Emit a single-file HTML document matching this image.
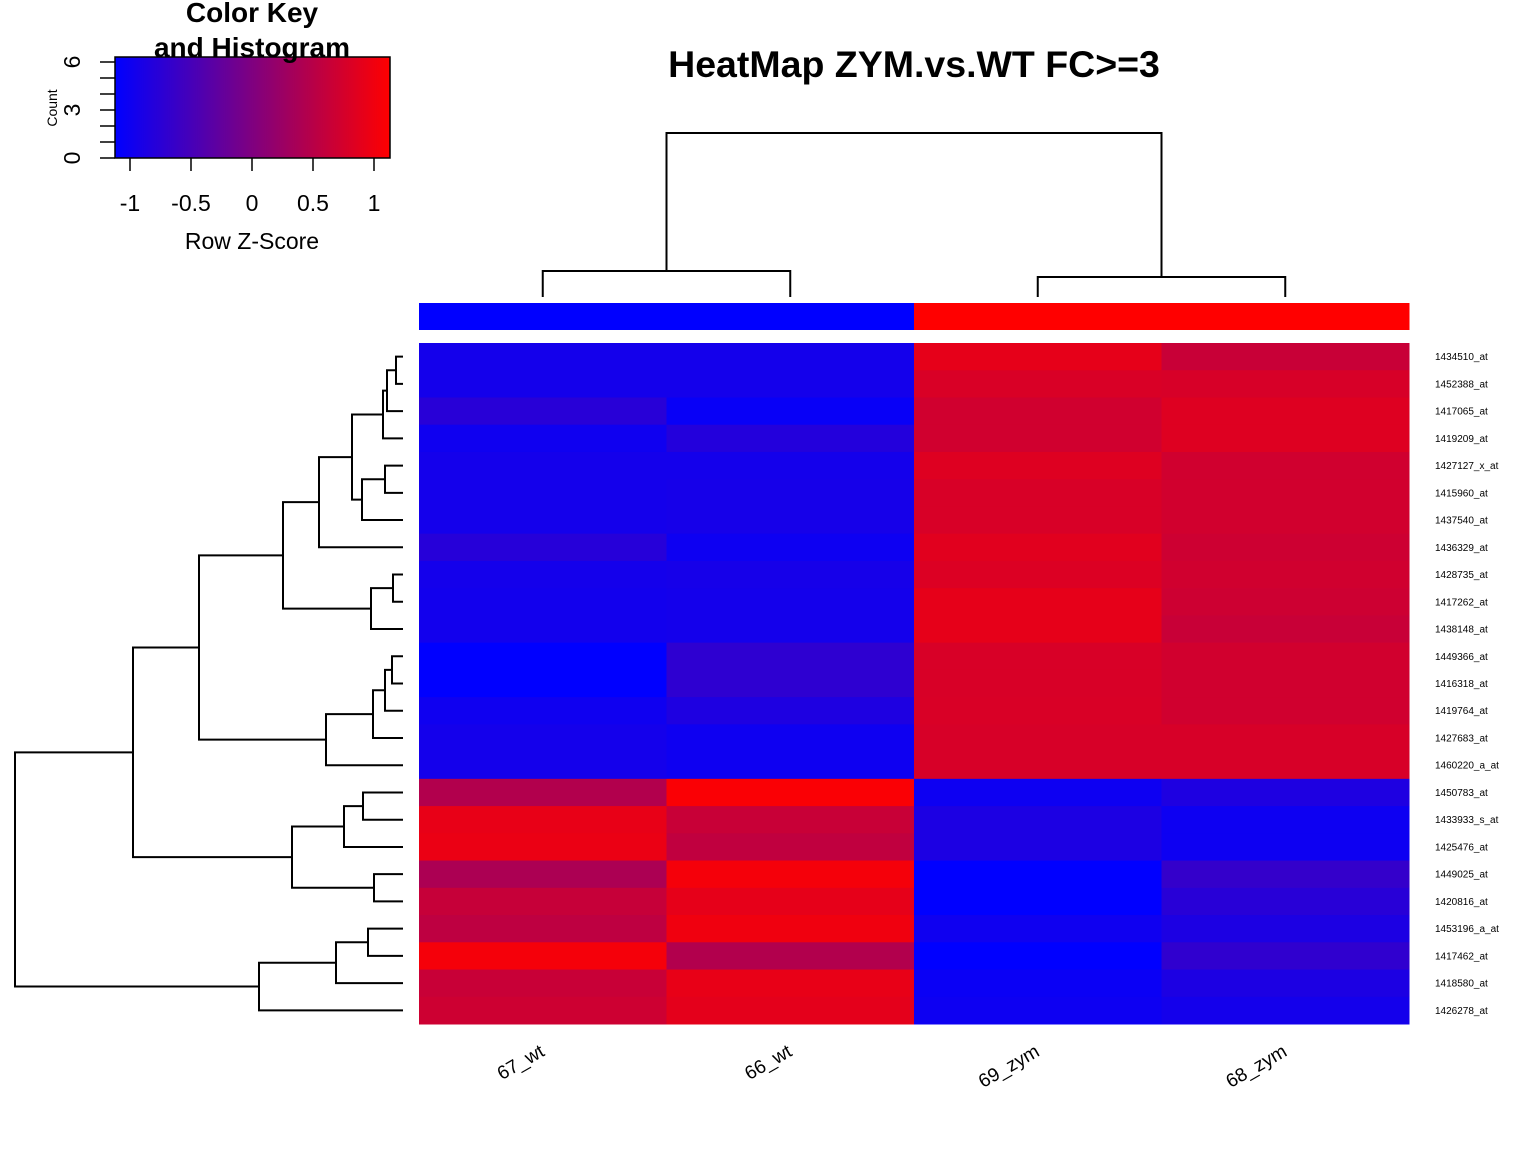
<!DOCTYPE html>
<html><head><meta charset="utf-8">
<style>
html,body{margin:0;padding:0;background:#fff;}
svg{display:block;font-family:"Liberation Sans",Arial,sans-serif;}
</style></head>
<body>
<svg id="chart" width="1536" height="1152" viewBox="0 0 1536 1152" xmlns="http://www.w3.org/2000/svg">
  <rect x="0" y="0" width="1536" height="1152" fill="#fff"/>
  <text x="914" y="77" font-size="37.5" font-weight="bold" text-anchor="middle">HeatMap ZYM.vs.WT FC&gt;=3</text>
  <g id="key">
    <defs>
      <linearGradient id="kg" x1="0" x2="1" y1="0" y2="0">
        <stop offset="0" stop-color="#0000ff"/>
        <stop offset="1" stop-color="#ff0000"/>
      </linearGradient>
    </defs>
    <text x="252" y="22" font-size="28" font-weight="bold" text-anchor="middle">Color Key</text>
    <rect x="115" y="57" width="275" height="101" fill="url(#kg)" stroke="#000" stroke-width="1.5"/>
    <text x="252" y="57" font-size="28" font-weight="bold" text-anchor="middle">and Histogram</text>
    <text x="252" y="249" font-size="23" text-anchor="middle">Row Z-Score</text>
    <text transform="translate(57,108) rotate(-90)" font-size="14" text-anchor="middle">Count</text>
  </g>
  <g id="dendro" stroke="#000" stroke-width="2" fill="none"></g>
  <g id="cdendro" stroke="#000" stroke-width="2" fill="none"></g>
  <g id="cells"></g>
  <g id="labels"></g>
</svg>
<script>
const cols = ["67_wt","66_wt","69_zym","68_zym"];
const groups = ["wt","wt","zym","zym"];
const rows = ["1434510_at","1452388_at","1417065_at","1419209_at","1427127_x_at","1415960_at","1437540_at","1436329_at","1428735_at","1417262_at","1438148_at","1449366_at","1416318_at","1419764_at","1427683_at","1460220_a_at","1450783_at","1433933_s_at","1425476_at","1449025_at","1420816_at","1453196_a_at","1417462_at","1418580_at","1426278_at"];
const z67 = [-0.94,-0.94,-0.77,-0.99,-0.94,-0.94,-0.94,-0.79,-0.94,-0.96,-0.96,-1.12,-1.12,-0.99,-0.94,-0.94,0.44,0.92,0.94,0.39,0.62,0.55,1.03,0.64,0.68];
const z66 = [-0.94,-0.94,-1.05,-0.81,-0.94,-0.93,-0.93,-1.01,-0.93,-0.94,-0.94,-0.72,-0.72,-0.86,-1.00,-1.00,1.08,0.64,0.57,1.03,0.90,0.99,0.44,0.92,0.88];
const z69 = [0.90,0.79,0.71,0.71,0.83,0.78,0.78,0.86,0.81,0.90,0.90,0.78,0.78,0.79,0.77,0.77,-1.01,-0.87,-0.87,-1.12,-1.12,-0.99,-1.12,-1.03,-1.01];
const z68 = [0.64,0.77,0.83,0.83,0.71,0.72,0.72,0.68,0.71,0.68,0.64,0.72,0.71,0.71,0.77,0.77,-0.86,-1.01,-1.01,-0.66,-0.77,-0.87,-0.70,-0.87,-0.94];
const keyTicks = [-1,-0.5,0,0.5,1];
const countTicks = [0,1,2,3,4,5,6];
const countLabels = [0,3,6];
const rowMerges = [[0,1,396],[-1,2,387],[-2,3,383],[4,5,385],[-4,6,362],[-3,-5,352],[-6,7,319],[8,9,393],[-8,10,371],[-7,-9,283],[11,12,392],[-11,13,385],[-12,14,373],[-13,15,326],[-10,-14,199],[16,17,363],[-16,18,344],[19,20,374],[-17,-18,292],[-15,-19,133],[21,22,368],[-21,23,336],[-22,24,259],[-20,-23,15]];
const colMerges = [[0,1,271],[2,3,277],[-1,-2,133]];

const NS="http://www.w3.org/2000/svg";
const X0=419, X1=1409, Y0=343, Y1=1024;
const cw=(X1-X0)/cols.length, rh=(Y1-Y0)/rows.length;
const xCol=i=>X0+cw*i, yRow=i=>Y0+rh*i;
const kx=v=>252+v*122, ky=c=>158-c*16;
function color(z){let t=(z+1.12)/2.24;t=Math.max(0,Math.min(1,t));const r=Math.round(255*t);return `rgb(${r},0,${255-r})`;}
function mk(tag,attrs,parent){const e=document.createElementNS(NS,tag);for(const k in attrs)e.setAttribute(k,attrs[k]);parent.appendChild(e);return e;}

const key=document.getElementById('key');
keyTicks.forEach(v=>{
  const t=mk('line',{x1:kx(v),x2:kx(v),y1:158,y2:171,stroke:'#000','stroke-width':1.5},key);
  
  
  const l=mk('text',{x:kx(v),y:211,'font-size':23,'text-anchor':'middle'},key);
  l.textContent=String(v);
  
  
});
countTicks.forEach(c=>{
  const t=mk('line',{x1:100,x2:115,y1:ky(c),y2:ky(c),stroke:'#000','stroke-width':1.5},key);
  
  
});
countLabels.forEach(c=>{
  const l=mk('text',{transform:`translate(80,${ky(c)}) rotate(-90)`,'font-size':23,'text-anchor':'middle'},key);
  l.textContent=String(c);
  
  
});

const cells=document.getElementById('cells');
const series=[z67,z66,z69,z68];
series.forEach((arr,ci)=>{
  arr.forEach((z,ri)=>{
    const r=mk('rect',{x:xCol(ci),y:yRow(ri),width:cw+0.5,height:rh+0.5,fill:color(z)},cells);
    
    
  });
});
groups.forEach((g,ci)=>{
  const r=mk('rect',{x:xCol(ci),y:303,width:cw+0.5,height:27,fill:g==='wt'?'#0000ff':'#ff0000'},cells);
  
  
});

const labels=document.getElementById('labels');
rows.forEach((n,i)=>{
  const t=mk('text',{x:1435,y:yRow(i)+rh/2+3.5,'font-size':10},labels);
  t.textContent=n;
  
  
});
cols.forEach((n,i)=>{
  const cx=xCol(i)+cw/2;
  const t=mk('text',{transform:`translate(${cx+3},${1055}) rotate(-30)`,'font-size':19,'text-anchor':'end'},labels);
  t.textContent=n;
  
  
});

const dg=document.getElementById('dendro');
const rpos=[],rh2=[];
function rInfo(id){return id>=0?{y:yRow(id)+rh/2,x:403}:{y:rpos[-id-1],x:rh2[-id-1]};}
rowMerges.forEach(([a,b,h])=>{
  const A=rInfo(a),B=rInfo(b);
  const p=mk('path',{d:`M${A.x},${A.y}H${h}V${B.y}H${B.x}`},dg);
  
  
  rpos.push((A.y+B.y)/2);rh2.push(h);
});
const cg=document.getElementById('cdendro');
const cpos=[],ch2=[];
function cInfo(id){return id>=0?{x:xCol(id)+cw/2,y:297}:{x:cpos[-id-1],y:ch2[-id-1]};}
colMerges.forEach(([a,b,h])=>{
  const A=cInfo(a),B=cInfo(b);
  const p=mk('path',{d:`M${A.x},${A.y}V${h}H${B.x}V${B.y}`},cg);
  
  
  cpos.push((A.x+B.x)/2);ch2.push(h);
});
</script>
</body></html>
